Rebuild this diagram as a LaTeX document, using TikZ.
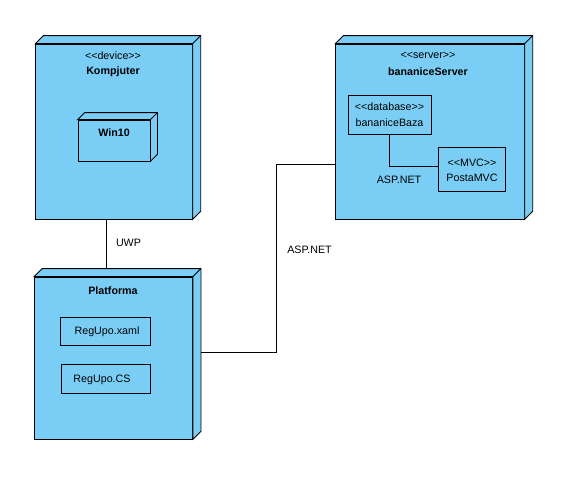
\documentclass[tikz,border=0pt]{standalone}
\usepackage{fontspec}
\setmainfont{Liberation Sans}
\usetikzlibrary{calc}
\definecolor{nodeblue}{RGB}{122,206,245}
\newcommand\stl{<\kern0pt<}
\newcommand\str{>\kern0pt>}
\tikzset{
  box/.style={draw=black, line width=0.8pt, fill=nodeblue, inner sep=0pt, rectangle},
  face/.style={draw=black, line width=0.8pt, fill=nodeblue, line join=miter},
  conn/.style={draw=black, line width=0.8pt},
  txt/.style={inner sep=0pt, font=\fontsize{10.7}{12}\selectfont},
  btxt/.style={inner sep=0pt, font=\fontsize{10.7}{12}\selectfont\bfseries},
}
\newcommand\dfaces[2]{%
  \path[face] (#1.north west) -- ++(#2,-#2) -| ($(#1.south east)+(#2,-#2)$) -- (#1.south east) -- (#1.north east) -- cycle;
  \draw[conn] (#1.north east) -- ++(#2,-#2);}
\begin{document}
\begin{tikzpicture}[x=1pt,y=-1pt]
\useasboundingbox[fill=white] (0,0) rectangle (581,480);
% Kompjuter
\node[box, minimum width=156.5pt, minimum height=175pt] (k) at (114,131.5) {};
\dfaces{k}{8}
\node[txt] (kst) at (113,56) {\stl device\str};
\node[btxt] (kname) at (113,72) {Kompjuter};
\node[box, minimum width=72pt, minimum height=41pt] (win) at (114,140.5) {};
\dfaces{win}{7}
\node[btxt] (wint) at (114,132.5) {Win10};
% Server
\node[box, minimum width=188.5pt, minimum height=175pt] (s) at (430,131.5) {};
\dfaces{s}{8}
\node[txt] (sst) at (428,55.5) {\stl server\str};
\node[btxt] (sname) at (428,72) {bananiceServer};
\node[box, minimum width=83pt, minimum height=38.5pt] (baza) at (389.5,115) {};
\node[txt] (bazast) at (389.5,107) {\stl database\str};
\node[txt] (bazat) at (389.5,122.5) {bananiceBaza};
\node[box, minimum width=67.5pt, minimum height=44pt] (mvc) at (472,169) {};
\node[txt] (mvcst) at (472,163) {\stl MVC\str};
\node[txt] (mvct) at (472,177.5) {PostaMVC};
\draw[conn] (baza.south) |- ([yshift=2.3pt]mvc.west);
\node[txt] (asp1) at (399,180) {ASP.NET};
% Platforma
\node[box, minimum width=158pt, minimum height=162pt] (p) at (113.5,358) {};
\dfaces{p}{8}
\node[btxt] (pname) at (113,290.5) {Platforma};
\node[box, minimum width=90pt, minimum height=28.5pt] (x1) at (105,331.5) {};
\node[txt] (x1t) at (107,332) {RegUpo.xaml};
\node[box, minimum width=89pt, minimum height=28.5pt] (x2) at (105.5,379) {};
\node[txt] (x2t) at (102,379.5) {RegUpo.CS};
% connectors
\draw[conn] ([xshift=-7.3pt]k.south) -- ([xshift=-6.8pt,yshift=8pt]p.north);
\node[txt] (uwp) at (128.5,243) {UWP};
\coordinate (pout) at ($(p.east)+(8,-5.5)$);
\coordinate (sin) at ($(s.west)+(0,32.5)$);
\draw[conn] (pout) -- ++(75.5,0) |- (sin);
\node[txt] (asp2) at (309.5,249.5) {ASP.NET};
\end{tikzpicture}
\end{document}
